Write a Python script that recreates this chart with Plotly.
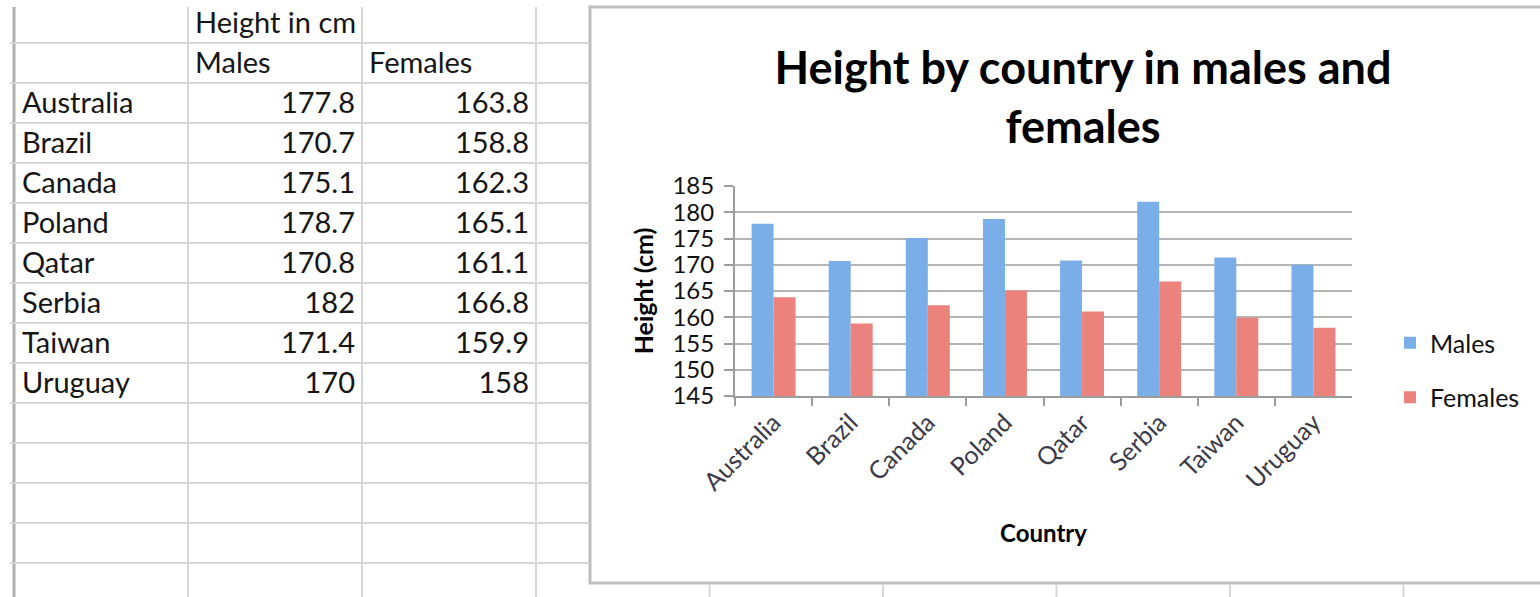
import plotly.graph_objects as go

# ---------------- data ----------------
countries = ["Australia", "Brazil", "Canada", "Poland", "Qatar", "Serbia", "Taiwan", "Uruguay"]
males = [177.8, 170.7, 175.1, 178.7, 170.8, 182, 171.4, 170]
females = [163.8, 158.8, 162.3, 165.1, 161.1, 166.8, 159.9, 158]
table_header = "Height in cm"
series_names = ["Males", "Females"]
y_ticks = [145, 150, 155, 160, 165, 170, 175, 180, 185]

# ---------------- geometry (px) ----------------
W, H = 1540, 597
FONT = "Lato, 'Open Sans', sans-serif"
COL_EDGES = [14, 188, 362, 536]
ROW_TOP, ROW_H = 3, 40
N_ROWS = 15
PAD = 7
TEXT_DY = 3

def px_x(p):
    return p / W

def px_y(p):
    return (H - p) / H

fig = go.Figure()

# ---------------- spreadsheet table (text on its own pixel axes) ----------------
lx, ly, lt = [], [], []
rx, ry, rt = [], [], []

def row_c(r):
    return ROW_TOP + ROW_H * (r + 0.5) + TEXT_DY

lx.append(COL_EDGES[1] + PAD); ly.append(row_c(0)); lt.append(table_header)
lx.append(COL_EDGES[1] + PAD); ly.append(row_c(1)); lt.append(series_names[0])
lx.append(COL_EDGES[2] + PAD); ly.append(row_c(1)); lt.append(series_names[1])
for i, (c, m, f) in enumerate(zip(countries, males, females)):
    lx.append(COL_EDGES[0] + PAD + 1); ly.append(row_c(2 + i)); lt.append(c)
    rx.append(COL_EDGES[2] - PAD); ry.append(row_c(2 + i)); rt.append(f"{m:g}")
    rx.append(COL_EDGES[3] - PAD); ry.append(row_c(2 + i)); rt.append(f"{f:g}")

tfont = dict(family=FONT, size=29, color="#161616")
fig.add_trace(go.Scatter(x=lx, y=ly, text=lt, mode="text", textposition="middle right",
                         textfont=tfont, xaxis="x2", yaxis="y2", showlegend=False, hoverinfo="skip"))
fig.add_trace(go.Scatter(x=rx, y=ry, text=rt, mode="text", textposition="middle left",
                         textfont=tfont, xaxis="x2", yaxis="y2", showlegend=False, hoverinfo="skip"))

# ---------------- chart ----------------
fig.add_trace(go.Bar(x=countries, y=males, name=series_names[0], legendgroup="m",
                     marker=dict(color="#7aaee9", line=dict(width=0))))
fig.add_trace(go.Bar(x=countries, y=females, name=series_names[1], legendgroup="f",
                     marker=dict(color="#eb837c", line=dict(width=0))))

GRID = "#d6d6d6"
AX = "#9c9c9c"

shapes = []
# chart frame
shapes.append(dict(type="rect", xref="paper", yref="paper",
                   x0=px_x(590), x1=px_x(1560), y0=px_y(583), y1=px_y(7),
                   line=dict(color="#bdbdbd", width=3), fillcolor="white", layer="below"))
# left thick border of sheet
shapes.append(dict(type="line", xref="paper", yref="paper",
                   x0=px_x(14), x1=px_x(14), y0=0, y1=px_y(7),
                   line=dict(color="#b0b0b0", width=3), layer="below"))
# sheet column lines below the chart frame
for k in range(1, 6):
    xp = 536 + 173.5 * k
    shapes.append(dict(type="line", xref="paper", yref="paper",
                       x0=px_x(xp), x1=px_x(xp), y0=0, y1=px_y(585),
                       line=dict(color=GRID, width=2), layer="below"))

fig.update_layout(
    template="none",
    width=W, height=H, autosize=False,
    margin=dict(l=0, r=0, t=0, b=0, pad=0),
    paper_bgcolor="white", plot_bgcolor="rgba(0,0,0,0)",
    font=dict(family=FONT, color="#111"),
    barmode="group", bargap=0.43, bargroupgap=0,
    title=dict(text="<b>Height by country in males and<br>females</b>",
               font=dict(family=FONT, size=45, color="#000"),
               x=px_x(1083), xanchor="center", xref="paper",
               y=px_y(84), yanchor="top", yref="paper"),
    xaxis=dict(domain=[px_x(735), px_x(1352)], anchor="y", automargin=False,
               showline=True, linecolor=AX, linewidth=2,
               ticks="outside", tickson="boundaries", ticklen=8, tickwidth=2, tickcolor=AX,
               tickangle=-45, tickfont=dict(family=FONT, size=25, color="#3a3a48"),
               showgrid=False, zeroline=False,
               title=dict(text="<b>Country</b>", font=dict(family=FONT, size=24, color="#000"),
                          standoff=30)),
    yaxis=dict(domain=[px_y(396), px_y(186)], anchor="x", automargin=False,
               range=[145, 185], tickvals=y_ticks,
               showline=True, linecolor=AX, linewidth=2,
               ticks="outside", ticklen=9, tickwidth=2, tickcolor=AX,
               ticklabelstandoff=5,
               tickfont=dict(family=FONT, size=24, color="#111"),
               showgrid=True, gridcolor="#b5b5b5", gridwidth=2, zeroline=False,
               title=dict(text="<b>Height (cm)</b>", font=dict(family=FONT, size=25, color="#000"),
                          standoff=12)),
    xaxis2=dict(domain=[px_x(10), px_x(590)], anchor="y2", range=[10, 590], automargin=False,
                tickvals=COL_EDGES[1:], showgrid=True, gridcolor=GRID, gridwidth=2,
                showticklabels=False, zeroline=False, showline=False, ticks=""),
    yaxis2=dict(domain=[0, px_y(7)], anchor="x2", range=[597, 7], automargin=False,
                tickvals=[ROW_TOP + ROW_H * k for k in range(1, N_ROWS)],
                showgrid=True, gridcolor=GRID, gridwidth=2,
                showticklabels=False, zeroline=False, showline=False, ticks=""),
    legend=dict(x=px_x(1390), xanchor="left", y=px_y(370), yanchor="middle",
                font=dict(family=FONT, size=25, color="#111"),
                tracegroupgap=19, bgcolor="rgba(0,0,0,0)", itemclick=False),
    shapes=shapes,
)

fig.write_html("out.html")
